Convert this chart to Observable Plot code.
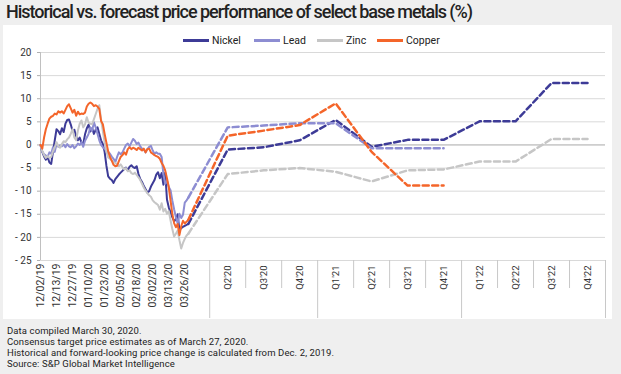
<!DOCTYPE html>
<html><head><meta charset="utf-8">
<script src="https://cdn.jsdelivr.net/npm/d3@7"></script>
<script src="https://cdn.jsdelivr.net/npm/@observablehq/plot@0.6"></script>
<style>
body{margin:0;background:#efefef;width:621px;height:374px;overflow:hidden;position:relative;font-family:Roboto,"Liberation Sans",sans-serif;color:#222;}
#title{position:absolute;left:6px;top:3px;font-size:18px;line-height:18px;font-weight:500;white-space:nowrap;color:#222;}
#panel{position:absolute;left:3px;top:25px;width:609px;height:294px;background:#fff;}
#chart{position:absolute;left:0;top:25px;}
#legend{position:absolute;left:0;top:33px;width:621px;height:14px;font-size:10.5px;color:#222;}
.li{position:absolute;top:0;height:14px;display:flex;align-items:center;white-space:nowrap;}
.sw{width:26px;height:3px;margin-right:3px;}
#foot{position:absolute;left:7px;top:325px;font-size:9.5px;line-height:11.1px;color:#222;white-space:nowrap;}
#foot span{display:inline-block;}
</style></head>
<body>
<div id="title">Historical vs. forecast price performance of select base metals (%)</div>
<div id="panel"></div>
<div id="chart"></div>
<div id="legend"></div>
<div id="foot"></div>
<script>
const metals = ["Nickel", "Lead", "Zinc", "Copper"];
const colors = ["#3d3b97", "#8d8dd2", "#c6c6c6", "#f4652a"];
const dateLabels = ["12/02/19","12/13/19","12/27/19","01/10/20","01/23/20","02/05/20","02/18/20","03/02/20","03/13/20","03/26/20"];
const quarters = ["Q2'20","Q3'20","Q4'20","Q1'21","Q2'21","Q3'21","Q4'21","Q1'22","Q2'22","Q3'22","Q4'22"];
const yTicks = [20, 15, 10, 5, 0, -5, -10, -15, -20, -25];
const footLines = ["Data compiled March 30, 2020.", "Consensus target price estimates as of March 27, 2020.", "Historical and forward-looking price change is calculated from Dec. 2, 2019.", "Source: S&P Global Market Intelligence"];

const nickelHist = [0,-1.5,-2.5,-3.2,-2.6,-3.8,-4.1,-1.5,1.0,3.4,3.0,2.3,3.6,2.8,4.6,5.4,5.5,4.4,3.0,3.3,1.9,1.0,1.6,0.5,0.2,2.3,3.6,4.4,2.9,3.6,2.4,3.3,3.8,2.4,1.0,0.2,-1.5,-4.5,-6.8,-7.3,-7.6,-8.2,-7.4,-6.9,-6.4,-6.0,-5.6,-5.2,-4.9,-5.5,-4.7,-4.4,-4.8,-5.0,-4.6,-6.3,-7.4,-8.0,-8.9,-9.6,-10.3,-10.0,-9.0,-8.3,-7.6,-6.4,-5.9,-7.2,-6.1,-8.6,-6.0,-11.8,-13.5,-14.6,-15.6,-16.5,-16.1,-15.0,-18.4,-18.0,-17.7,-17.5,-17.3,-17.1];
const leadHist = [0,-1.5,-2.0,-2.3,-2.6,-1.6,-1.9,-0.5,-1.5,0.2,-0.4,-0.1,-0.3,0.1,-0.5,0.2,-0.3,-0.5,0.0,-0.7,-0.3,0.3,0.0,0.6,-0.4,0.9,1.6,2.4,3.8,3.1,4.9,3.8,2.4,1.0,0.0,-0.5,-0.9,-1.2,-1.5,-1.9,-2.5,-3.0,-3.7,-2.6,-1.6,-2.0,-1.6,-0.8,0.0,0.3,-0.3,0.5,1.3,0.9,0.2,0.5,-0.3,-0.8,-1.0,-1.6,-0.9,-0.4,-0.2,-1.2,-1.9,-1.6,-1.9,-1.9,-2.6,-6.3,-8.4,-7.7,-9.1,-9.8,-12.0,-13.9,-15.6,-17.0,-14.9,-15.8,-15.1,-12.5,-12.0,-11.4];
const zincHist = [0,-1.3,-2.2,-2.8,-2.4,-2.8,-2.6,-1.4,-0.5,0.6,-0.3,-0.6,0.2,0.8,0.6,1.2,1.6,2.4,3.4,1.6,1.0,3.1,4.6,5.3,3.8,4.5,6.0,4.8,4.6,4.5,5.6,6.7,7.8,8.6,5.5,3.0,0.5,-1.4,-2.7,-3.0,-3.4,-3.7,-3.9,-4.2,-4.6,-4.2,-4.8,-5.3,-5.0,-5.7,-5.5,-6.1,-6.3,-6.0,-6.5,-7.0,-7.6,-8.4,-9.2,-9.9,-10.4,-10.9,-11.2,-12.0,-12.4,-12.7,-13.0,-14.0,-12.6,-14.4,-13.8,-14.9,-14.3,-16.3,-18.2,-19.8,-19.2,-18.5,-20.6,-22.4,-21.2,-20.3,-19.6,-19.2];
const copperHist = [0,-0.8,1.6,3.4,4.6,5.7,6.1,6.3,6.8,6.6,7.3,7.0,7.3,6.8,7.6,8.4,8.8,7.9,7.0,7.6,6.3,7.2,6.6,6.8,6.7,7.0,8.3,8.9,9.2,8.9,8.4,8.6,8.3,7.8,5.2,4.5,2.4,0.5,-1.4,-2.6,-3.4,-4.3,-4.6,-4.5,-3.5,-2.6,-2.2,-1.6,-2.1,-0.9,-0.5,-0.9,-0.6,-0.8,-1.1,-0.6,-0.9,-1.2,-0.8,-1.6,-0.9,-0.8,-1.6,-1.9,-2.2,-2.4,-2.6,-3.0,-3.9,-4.5,-5.5,-7.2,-9.1,-12.0,-14.9,-16.9,-17.8,-17.1,-19.5,-17.6,-16.4,-17.0,-16.6,-16.2];

const nickelFcst = [-1.0,-0.5,1.0,5.4,-0.4,1.1,1.1,5.1,5.1,13.4,13.4];
const leadFcst = [3.8,4.2,4.7,4.7,-0.7,-0.7,-0.7];
const zincFcst = [-6.3,-5.5,-5.0,-5.8,-7.9,-5.5,-5.3,-3.6,-3.6,1.3,1.3];
const copperFcst = [2.0,3.1,4.3,9.0,-1.5,-8.8,-8.8];

const histSeries = [nickelHist, leadHist, zincHist, copperHist];
const fcstSeries = [nickelFcst, leadFcst, zincFcst, copperFcst];

// layout of the category axis (in trading-day slots)
const LABEL_EVERY = 9, Q_START = 95, Q_WIDTH = 20.2;
const qPos = k => Q_START + Q_WIDTH / 2 + Q_WIDTH * k;
const N = nickelHist.length;

const hist = [], fcst = [];
metals.forEach((m, k) => {
  histSeries[k].forEach((v, i) => hist.push({metal: m, i, v}));
  fcst.push({metal: m, i: N - 1, v: histSeries[k][N - 1]});
  fcstSeries[k].forEach((v, j) => fcst.push({metal: m, i: qPos(j), v}));
});
const dateTicks = dateLabels.map((_, k) => k * LABEL_EVERY);
const qTicks = quarters.map((_, k) => qPos(k));
const bounds = d3.range(quarters.length + 1).map(k => Q_START + Q_WIDTH * k);
const yearStarts = [0, 3, 7, 11];
const longB = bounds.filter((_, k) => yearStarts.includes(k));
const shortB = bounds.filter((_, k) => !yearStarts.includes(k));
const fmtY = d => d < 0 ? "- " + Math.abs(d) : String(d);

const chart = Plot.plot({
  width: 621, height: 295,
  marginLeft: 40, marginRight: 16, marginTop: 27, marginBottom: 60,
  style: {background: "transparent", fontFamily: "Roboto, 'Liberation Sans', sans-serif", fontSize: "10px", color: "#333"},
  x: {domain: [0, Q_START + Q_WIDTH * quarters.length], axis: null},
  y: {domain: [-25, 20], axis: null},
  color: {domain: metals, range: colors},
  marks: [
    Plot.ruleY(yTicks.filter(d => d !== 0), {stroke: "#d9d9d9"}),
    Plot.ruleY([0], {stroke: "#a8a8a8"}),
    Plot.ruleX([0], {stroke: "#c0c0c0"}),
    Plot.ruleX(shortB, {stroke: "#c8c8c8", insetTop: 208, insetBottom: -28}),
    Plot.ruleX(longB, {stroke: "#c8c8c8", insetTop: 208, insetBottom: -58}),
    Plot.axisY({ticks: yTicks, tickFormat: fmtY, tickSize: 3, tickPadding: 6, stroke: "#b0b0b0", fill: "#333", label: null}),
    Plot.axisX({ticks: dateTicks, tickFormat: i => dateLabels[i / LABEL_EVERY], tickSize: 0, tickPadding: 3, tickRotate: -90, fill: "#333", fontSize: 10.5, label: null}),
    Plot.axisX({ticks: qTicks, tickFormat: x => quarters[qTicks.indexOf(x)], tickSize: 0, tickPadding: 5, tickRotate: -90, fill: "#333", fontSize: 9.5, label: null}),
    Plot.line(hist, {x: "i", y: "v", z: "metal", stroke: "metal", strokeWidth: 2}),
    Plot.line(fcst, {x: "i", y: "v", z: "metal", stroke: "metal", strokeWidth: 2.5, strokeDasharray: "6,3.5"})
  ]
});
document.getElementById("chart").append(chart);

const swLeft = [183, 254, 317, 377];
const legend = document.getElementById("legend");
metals.forEach((m, k) => {
  const d = document.createElement("div");
  d.className = "li";
  d.style.left = swLeft[k] + "px";
  d.innerHTML = `<span class="sw" style="background:${colors[k]}"></span><span>${m}</span>`;
  legend.append(d);
});

// footer lines
const foot = document.getElementById("foot");
footLines.forEach((t, k) => {
  if (k) foot.append(document.createElement("br"));
  const s = document.createElement("span");
  s.textContent = t;
  foot.append(s);
});
// fit text widths to the reference
function spacingFor(el, target) {
  const w = el.getBoundingClientRect().width;
  return (target - w) / el.textContent.length;
}
const title = document.getElementById("title");
title.style.letterSpacing = spacingFor(title, 466) + "px";
const ls = spacingFor(foot.querySelectorAll("span")[2], 327);
foot.style.letterSpacing = ls + "px";
</script>
</body></html>
